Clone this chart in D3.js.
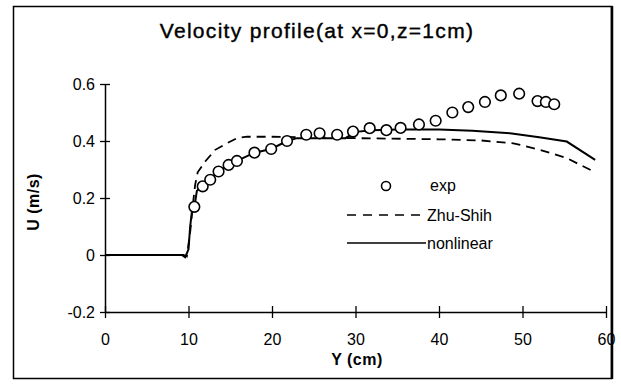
<!DOCTYPE html>
<html>
<head>
<meta charset="utf-8">
<script src="https://cdn.jsdelivr.net/npm/d3@7"></script>
<style>
  html, body { margin: 0; padding: 0; background: #fff; }
  svg { display: block; font-family: "Liberation Sans", Arial, sans-serif; }
</style>
</head>
<body>
<div id="chart"></div>
<script>
// measured profile (exp) and the two model curves
const expY = [10.7, 11.7, 12.6, 13.6, 14.8, 15.8, 17.9, 19.9, 21.8, 24.1, 25.7, 27.8, 29.7,
  31.7, 33.7, 35.4, 37.6, 39.6, 41.6, 43.5, 45.5, 47.4, 49.6, 51.8, 52.8, 53.8];
const expU = [0.169, 0.241, 0.264, 0.293, 0.316, 0.330, 0.359, 0.372, 0.400, 0.422, 0.427, 0.422, 0.433,
  0.445, 0.438, 0.446, 0.458, 0.471, 0.500, 0.519, 0.537, 0.560, 0.566, 0.540, 0.537, 0.529];

const zhuY = [0, 9.4, 9.8, 10.2, 10.5, 10.8, 11.1, 12, 13.2, 14.6, 15.8, 17, 20, 30, 40, 45, 48.9, 52.1, 55.3, 58.5];
const zhuU = [0, 0, -0.005, 0.08, 0.17, 0.247, 0.29, 0.328, 0.369, 0.392, 0.41, 0.415, 0.415, 0.41, 0.406, 0.402, 0.392, 0.369, 0.34, 0.293];

const nlY = [0, 9.2, 9.6, 10.0, 10.2, 10.4, 10.7, 11.0, 11.7, 12.6, 13.6, 14.8, 15.8, 17.9, 19.9, 21.8,
  23, 28.8, 30, 32, 35, 40, 44, 48.5, 52, 55.3, 58.7];
const nlU = [0, 0, -0.008, 0.02, 0.10, 0.15, 0.167, 0.225, 0.245, 0.266, 0.293, 0.316, 0.33, 0.359, 0.372, 0.40,
  0.41, 0.41, 0.432, 0.438, 0.44, 0.44, 0.436, 0.427, 0.413, 0.398, 0.334];

const xTicks = [0, 10, 20, 30, 40, 50, 60];
const yTicks = [-0.2, 0, 0.2, 0.4, 0.6];

const W = 621, H = 384;
const svg = d3.select('#chart').append('svg').attr('width', W).attr('height', H);

// frame
svg.append('rect').attr('x', 13.5).attr('y', 6.5).attr('width', 598).attr('height', 372)
  .attr('fill', 'none').attr('stroke', '#000').attr('stroke-width', 1.5);
svg.append('line').attr('x1', 612).attr('x2', 612).attr('y1', 6).attr('y2', 379)
  .attr('stroke', '#000').attr('stroke-width', 2.5);

const x = d3.scaleLinear().domain([0, 60]).range([105, 606]);
const y = d3.scaleLinear().domain([-0.2, 0.6]).range([312, 84]);

svg.append('text').attr('x', 317).attr('y', 38).attr('text-anchor', 'middle')
  .attr('font-size', '21px').attr('letter-spacing', '1.3px').attr('stroke', '#000').attr('stroke-width', 0.4)
  .text('Velocity profile(at x=0,z=1cm)');

// axes
const fmtY = (d) => (d === 0 ? '0' : d.toFixed(1));
const gy = svg.append('g').attr('transform', `translate(${x(0)},0)`)
  .call(d3.axisLeft(y).tickValues(yTicks).tickFormat(fmtY).tickSize(5).tickPadding(5).tickSizeOuter(0));
const gx = svg.append('g').attr('transform', `translate(0,${y(-0.2)})`)
  .call(d3.axisBottom(x).tickValues(xTicks).tickSize(6).tickPadding(16).tickSizeOuter(0));

[gy, gx].forEach((g) => {
  g.select('.domain').attr('stroke', '#000').attr('stroke-width', 1.5);
  g.selectAll('.tick line').attr('stroke', '#000').attr('stroke-width', 1.3);
  g.selectAll('.tick text').attr('fill', '#000').attr('font-size', '16px')
    .attr('font-family', '"Liberation Sans", Arial, sans-serif');
});
gy.selectAll('.tick line').attr('x1', -5).attr('x2', 5);
gx.selectAll('.tick line').attr('y1', -6).attr('y2', 6);

svg.append('text').attr('x', 357).attr('y', 365).attr('text-anchor', 'middle')
  .attr('font-size', '16px').attr('font-weight', 'bold').attr('letter-spacing', '0.5px')
  .text('Y (cm)');
svg.append('text').attr('transform', 'translate(39,202) rotate(-90)').attr('text-anchor', 'middle')
  .attr('font-size', '16px').attr('font-weight', 'bold').attr('letter-spacing', '0.5px')
  .text('U (m/s)');

// curves
const line = d3.line().x((d) => x(d[0])).y((d) => y(d[1]));
svg.append('path').datum(d3.zip(zhuY, zhuU)).attr('d', line)
  .attr('fill', 'none').attr('stroke', '#000').attr('stroke-width', 1.8).attr('stroke-dasharray', '9,6');
svg.append('path').datum(d3.zip(nlY, nlU)).attr('d', line)
  .attr('fill', 'none').attr('stroke', '#000').attr('stroke-width', 2);

svg.append('g').selectAll('circle').data(d3.zip(expY, expU)).join('circle')
  .attr('cx', (d) => x(d[0])).attr('cy', (d) => y(d[1])).attr('r', 5.3)
  .attr('fill', '#fff').attr('stroke', '#000').attr('stroke-width', 1.6);

// legend
const lg = svg.append('g').attr('font-size', '16px');
lg.append('circle').attr('cx', 386).attr('cy', 186).attr('r', 4.5)
  .attr('fill', '#fff').attr('stroke', '#000').attr('stroke-width', 1.6);
lg.append('text').attr('x', 430).attr('y', 186).attr('dy', '0.32em').text('exp');
lg.append('line').attr('x1', 347).attr('x2', 426).attr('y1', 215).attr('y2', 215)
  .attr('stroke', '#000').attr('stroke-width', 1.5).attr('stroke-dasharray', '9,7');
lg.append('text').attr('x', 427).attr('y', 215).attr('dy', '0.35em').text('Zhu-Shih');
lg.append('line').attr('x1', 347).attr('x2', 426).attr('y1', 243).attr('y2', 243)
  .attr('stroke', '#000').attr('stroke-width', 1.5);
lg.append('text').attr('x', 427).attr('y', 243).attr('dy', '0.35em').text('nonlinear');
</script>
</body>
</html>
